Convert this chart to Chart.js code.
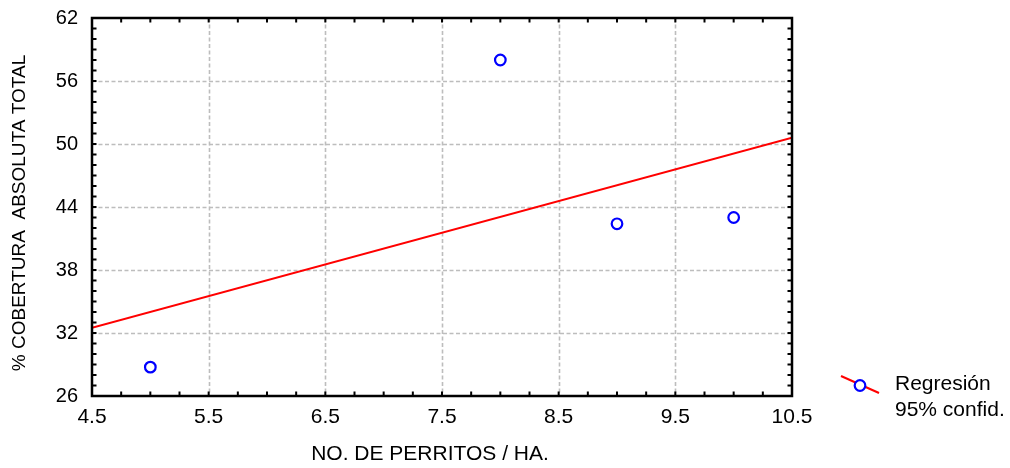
<!DOCTYPE html>
<html>
<head>
<meta charset="utf-8">
<script src="https://cdn.jsdelivr.net/npm/chart.js@4.4.1/dist/chart.umd.min.js"></script>
<style>
  html, body { margin: 0; padding: 0; background: #fff; }
  #wrap { width: 1010px; height: 468px; position: relative; }
</style>
</head>
<body>
<div id="wrap"><canvas id="c" width="1010" height="468"></canvas></div>
<script>
// ---- data ----
const xValues = [5, 8, 9, 10];
const yValues = [28.75, 58.0, 42.4, 43.0];
const fitX = [4.5, 10.5];
const fitY = [32.5, 50.6];
const xTickValues = [4.5, 5.5, 6.5, 7.5, 8.5, 9.5, 10.5];
const yTickValues = [26, 32, 38, 44, 50, 56, 62];
const xTitle = 'NO. DE PERRITOS / HA.';
const yTitle = '% COBERTURA  ABSOLUTA TOTAL';
const legendLabels = ['Regresión', '95% confid.'];

const FONT = '"Liberation Sans", Arial, sans-serif';

const framePlugin = {
  id: 'frame',
  beforeDatasetsDraw(chart) {
    const {ctx, chartArea: a, scales: {x, y}} = chart;
    ctx.save();
    ctx.strokeStyle = '#bdbdbd';
    ctx.lineWidth = 1.6;
    ctx.setLineDash([4, 2.5]);
    xTickValues.forEach(v => {
      const px = Math.round(x.getPixelForValue(v)) + 0.5;
      if (px <= a.left + 2 || px >= a.right - 2) return;
      ctx.beginPath(); ctx.moveTo(px, a.top); ctx.lineTo(px, a.bottom); ctx.stroke();
    });
    yTickValues.forEach(v => {
      const py = Math.round(y.getPixelForValue(v)) + 0.5;
      if (py <= a.top + 2 || py >= a.bottom - 2) return;
      ctx.beginPath(); ctx.moveTo(a.left, py); ctx.lineTo(a.right, py); ctx.stroke();
    });
    ctx.restore();
  },
  afterDraw(chart) {
    const {ctx, chartArea: a, scales: {x, y}} = chart;
    ctx.save();
    ctx.strokeStyle = '#000';
    ctx.setLineDash([]);
    // minor inward ticks
    ctx.lineWidth = 2;
    const tl = 4.5;
    for (let v = x.min; v <= x.max + 1e-9; v += 0.25) {
      const px = x.getPixelForValue(v);
      ctx.beginPath();
      ctx.moveTo(px, a.bottom); ctx.lineTo(px, a.bottom - tl);
      ctx.moveTo(px, a.top); ctx.lineTo(px, a.top + tl);
      ctx.stroke();
    }
    for (let v = y.min; v <= y.max + 1e-9; v += 1) {
      const py = y.getPixelForValue(v);
      ctx.beginPath();
      ctx.moveTo(a.left, py); ctx.lineTo(a.left + tl, py);
      ctx.moveTo(a.right, py); ctx.lineTo(a.right - tl, py);
      ctx.stroke();
    }
    // frame
    ctx.lineWidth = 2.5;
    ctx.strokeRect(a.left, a.top, a.right - a.left, a.bottom - a.top);

    // axis titles
    ctx.fillStyle = '#000';
    ctx.textAlign = 'center';
    ctx.textBaseline = 'middle';
    ctx.font = '21px ' + FONT;
    ctx.fillText(xTitle, 430, 454);
    ctx.save();
    ctx.translate(20, 213);
    ctx.rotate(-Math.PI / 2);
    ctx.font = '19px ' + FONT;
    ctx.fillText(yTitle, 0, 0);
    ctx.restore();

    // legend
    ctx.lineWidth = 2;
    ctx.strokeStyle = '#ff0000';
    ctx.beginPath(); ctx.moveTo(841, 376); ctx.lineTo(879, 393); ctx.stroke();
    ctx.fillStyle = '#fff';
    ctx.strokeStyle = '#0000ff';
    ctx.lineWidth = 2.2;
    ctx.beginPath(); ctx.arc(860, 385.5, 5.3, 0, Math.PI * 2); ctx.fill(); ctx.stroke();
    ctx.fillStyle = '#000';
    ctx.font = '21px ' + FONT;
    ctx.textBaseline = 'alphabetic';
    ctx.textAlign = 'left';
    ctx.fillText(legendLabels[0], 895, 390);
    ctx.fillText(legendLabels[1], 895, 416);
    ctx.restore();
  }
};

new Chart(document.getElementById('c'), {
  type: 'scatter',
  data: {
    datasets: [
      {
        label: 'Regresión',
        type: 'line',
        data: fitX.map((v, i) => ({x: v, y: fitY[i]})),
        borderColor: '#ff0000',
        borderWidth: 2,
        pointRadius: 0,
        fill: false,
        order: 2
      },
      {
        label: 'Datos',
        data: xValues.map((v, i) => ({x: v, y: yValues[i]})),
        borderColor: '#0000ff',
        backgroundColor: 'rgba(0,0,0,0)',
        borderWidth: 2.2,
        pointRadius: 5.3,
        pointHoverRadius: 5.3,
        order: 1
      }
    ]
  },
  options: {
    responsive: false,
    animation: false,
    layout: { padding: { left: 0, right: 218, top: 18, bottom: 0 } },
    plugins: { legend: { display: false }, tooltip: { enabled: false } },
    scales: {
      x: {
        type: 'linear', min: 4.5, max: 10.5,
        afterBuildTicks: s => { s.ticks = xTickValues.map(v => ({value: v})); },
        afterFit: s => { s.height = 72; s.paddingLeft = 0; s.paddingRight = 0; },
        grid: { display: false, drawTicks: false },
        border: { display: false },
        ticks: {
          color: '#000', padding: 9,
          font: { family: FONT, size: 21 },
          callback: v => Number(v).toFixed(1),
          maxRotation: 0, autoSkip: false
        },
        title: { display: false }
      },
      y: {
        type: 'linear', min: 26, max: 62,
        afterBuildTicks: s => { s.ticks = yTickValues.map(v => ({value: v})); },
        afterFit: s => { s.width = 92; s.paddingTop = 0; s.paddingBottom = 0; },
        grid: { display: false, drawTicks: false },
        border: { display: false },
        ticks: {
          color: '#000', padding: 14,
          font: { family: FONT, size: 20 },
          autoSkip: false
        },
        title: { display: false }
      }
    }
  },
  plugins: [framePlugin]
});
</script>
</body>
</html>
